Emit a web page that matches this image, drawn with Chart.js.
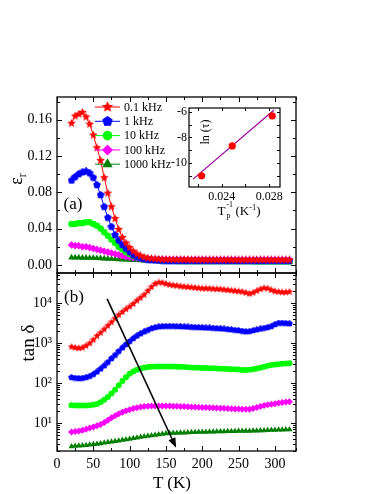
<!DOCTYPE html>
<html><head><meta charset="utf-8">
<script src="https://cdn.jsdelivr.net/npm/chart.js@4.4.1/dist/chart.umd.min.js"></script>
<style>
html,body{margin:0;padding:0;background:#fff;}
#wrap{position:relative;width:382px;height:494px;overflow:hidden;background:#fff;}
canvas{position:absolute;left:0;top:0;}
.lbl{position:absolute;font-family:'Liberation Serif','Times New Roman',serif;color:#000;white-space:nowrap;line-height:1;transform:translate(-50%,-50%);}
.rot{transform:translate(-50%,-50%) rotate(-90deg);}
.sm{font-size:65%;position:relative;}
.ab{position:absolute;font-size:8px;line-height:1;}
</style></head>
<body><div id="wrap">
<canvas id="cTop" width="382" height="494"></canvas>
<canvas id="cBot" width="382" height="494"></canvas>
<canvas id="cIn" width="382" height="494"></canvas>
<div class="lbl rot" style="left:16px;top:179px;font-size:18px">ε<span class="sm" style="top:4px">r</span></div>
<div class="lbl rot" style="left:27px;top:343px;font-size:19px">tan δ</div>
<div class="lbl" style="left:172px;top:482px;font-size:17px">T (K)</div>
<div class="lbl" style="left:73px;top:203px;font-size:17px">(a)</div>
<div class="lbl" style="left:74px;top:296px;font-size:17px">(b)</div>
<div class="lbl rot" style="left:205px;top:132px;font-size:12px">ln (τ)</div>
<div class="lbl" style="left:239px;top:210px;font-size:13px">T<span style="display:inline-block;position:relative;width:10px;height:1em;vertical-align:top;"><span class="ab" style="left:1px;top:-3px">-1</span><span class="ab" style="left:1px;top:8px">p</span></span>(K<span class="sm" style="top:-5px">-1</span>)</div>
</div>
<script>
// ---- data ----
const temps = [20,25,30,35,40,45,50,55,60,65,70,75,80,85,90,95,100,105,110,115,120,125,130,135,140,145,150,155,160,165,170,175,180,185,190,195,200,205,210,215,220,225,230,235,240,245,250,255,260,265,270,275,280,285,290,295,300,305,310,315,320];
const freqLabels = ['0.1 kHz','1 kHz','10 kHz','100 kHz','1000 kHz'];

const epsr_01kHz = [0.156,0.164,0.166,0.168,0.163,0.155,0.143,0.129,0.115,0.096,
 0.079,0.064,0.051,0.039,0.030,0.024,0.019,0.015,0.012,0.010,
 0.0085,0.0075,0.0070,0.0066,0.0063,0.0061,0.0060,0.0059,0.0058,0.0058,
 0.0057,0.0057,0.0057,0.0056,0.0056,0.0056,0.0056,0.0055,0.0055,0.0055,
 0.0055,0.0055,0.0055,0.0055,0.0055,0.0054,0.0054,0.0054,0.0054,0.0054,
 0.0054,0.0054,0.0054,0.0054,0.0054,0.0054,0.0054,0.0054,0.0054,0.0054,
 0.0054];
const epsr_1kHz = [0.093,0.097,0.100,0.102,0.103,0.101,0.096,0.088,0.077,0.064,
 0.052,0.042,0.033,0.027,0.022,0.018,0.014,0.011,0.009,0.0075,
 0.0065,0.0058,0.0053,0.0050,0.0048,0.0047,0.0046,0.0045,0.0045,0.0044,
 0.0044,0.0044,0.0044,0.0044,0.0044,0.0044,0.0044,0.0044,0.0044,0.0044,
 0.0043,0.0043,0.0043,0.0043,0.0043,0.0043,0.0043,0.0043,0.0043,0.0043,
 0.0043,0.0043,0.0043,0.0043,0.0043,0.0043,0.0043,0.0043,0.0043,0.0043,
 0.0043];
const epsr_10kHz = [0.045,0.045,0.046,0.046,0.047,0.047,0.045,0.043,0.040,0.036,
 0.032,0.028,0.024,0.020,0.017,0.014,0.012,0.010,0.0085,0.0075,
 0.0068,0.0060,0.0055,0.0051,0.0048,0.0046,0.0044,0.0043,0.0042,0.0041,
 0.0040,0.0040,0.0040,0.0040,0.0040,0.0040,0.0040,0.0040,0.0040,0.0040,
 0.0039,0.0039,0.0039,0.0039,0.0039,0.0039,0.0039,0.0039,0.0039,0.0039,
 0.0038,0.0038,0.0038,0.0038,0.0038,0.0038,0.0038,0.0038,0.0038,0.0038,
 0.0038];
const epsr_100kHz = [0.022,0.021,0.021,0.020,0.020,0.019,0.018,0.017,0.016,0.015,
 0.014,0.013,0.012,0.011,0.010,0.009,0.0085,0.008,0.0075,0.007,
 0.0068,0.0066,0.0064,0.0062,0.0061,0.0060,0.0059,0.0058,0.0058,0.0057,
 0.0057,0.0057,0.0057,0.0056,0.0056,0.0056,0.0056,0.0056,0.0056,0.0056,
 0.0056,0.0056,0.0056,0.0056,0.0055,0.0055,0.0055,0.0055,0.0055,0.0055,
 0.0055,0.0055,0.0055,0.0055,0.0055,0.0055,0.0055,0.0055,0.0055,0.0055,
 0.0055];
const epsr_1000kHz = [0.0080,0.0080,0.0079,0.0078,0.0077,0.0076,0.0075,0.0073,0.0071,0.0069,
 0.0067,0.0065,0.0063,0.0061,0.0059,0.0057,0.0055,0.0053,0.0051,0.0049,
 0.0047,0.0045,0.0043,0.0041,0.0040,0.0039,0.0038,0.0037,0.0036,0.0035,
 0.0035,0.0034,0.0034,0.0033,0.0033,0.0033,0.0032,0.0032,0.0032,0.0032,
 0.0031,0.0031,0.0031,0.0031,0.0031,0.0031,0.0031,0.0031,0.0031,0.0031,
 0.0031,0.0031,0.0030,0.0030,0.0030,0.0030,0.0030,0.0030,0.0030,0.0030,
 0.0030];

const tan_01kHz = [800,760,740,760,850,980,1200,1500,1800,2200,
 2700,3300,4100,5000,6000,7000,8100,9500,11500,13500,
 16000,20000,25000,30000,32500,32000,30000,28500,27500,27000,
 26000,25500,25000,24500,24000,23500,23000,23000,22800,22500,
 22200,22000,21500,21000,20500,20000,19500,19000,18000,17000,
 18000,20000,22000,23500,23000,21000,19500,19000,18500,18500,
 19000];
const tan_1kHz = [138,133,130,132,138,148,165,190,225,270,
 330,410,500,620,760,920,1100,1300,1500,1700,
 1900,2100,2300,2450,2550,2600,2620,2620,2620,2600,
 2580,2550,2520,2500,2470,2450,2420,2400,2370,2350,
 2320,2290,2250,2200,2150,2100,2050,1980,1920,1950,
 2050,2150,2250,2350,2450,2600,2900,3150,3150,3100,
 3050];
const tan_10kHz = [28,27.5,27.5,27.5,27.5,28,28.5,30,33,38,
 45,55,68,88,112,140,170,195,215,230,
 242,250,255,257,258,258,258,257,257,256,
 254,251,248,245,242,240,238,236,234,232,
 230,228,226,224,222,219,216,212,210,213,
 220,230,240,255,268,280,290,295,302,308,
 312];
const tan_100kHz = [6.0,6.1,6.3,6.6,7.0,7.5,8.0,8.5,9.2,10.3,
 11.8,13.5,15.2,17.0,18.7,20.2,21.6,23.0,24.2,25.2,
 26.0,26.4,26.6,26.8,26.8,26.7,26.6,26.5,26.4,26.2,
 26.0,25.8,25.5,25.2,25.0,24.8,24.6,24.4,24.2,24.0,
 23.8,23.5,23.3,23.0,22.8,22.5,22.3,22.1,22.0,22.2,
 23.0,24.5,26.0,27.5,28.5,29.5,30.5,31.5,32.5,33.5,
 34.0];
const tan_1000kHz = [2.60,2.65,2.70,2.75,2.80,2.85,2.95,3.00,3.10,3.20,
 3.30,3.40,3.50,3.60,3.75,3.85,4.00,4.15,4.30,4.45,
 4.60,4.75,4.90,5.05,5.20,5.35,5.50,5.55,5.60,5.65,
 5.70,5.75,5.80,5.85,5.90,5.95,6.00,6.00,6.05,6.05,
 6.10,6.10,6.15,6.20,6.25,6.25,6.30,6.30,6.35,6.35,
 6.40,6.45,6.50,6.55,6.60,6.65,6.70,6.75,6.80,6.85,
 6.90];

// inset: ln(tau) vs 1/Tp
const invTp = [0.02232, 0.02489, 0.02825];
const lnTau = [-11.02, -8.67, -6.31];
const fitInvTp = [0.0216, 0.0284];
const fitLnTau = [-11.28, -5.85];

// arrow (T, tan delta) start and end
const arrowT = [69, 164];
const arrowTan = [12600, 2.4];

// tick label sets
const xTickLabels = [0,50,100,150,200,250,300];
const epsTickLabels = ['0.00','0.04','0.08','0.12','0.16'];

// ---- styling ----
const FONT = "'Liberation Serif','Times New Roman',serif";
Chart.defaults.font.family = FONT;
Chart.defaults.color = '#000';
const colors = ['#ff0000','#0000ff','#00ff00','#ff00ff','#007f00'];
const styles = ['star','pentagon','circle','diamond','triangle'];

function polyImg(size, color, n, inner){
  const c = document.createElement('canvas'); c.width = c.height = size;
  const g = c.getContext('2d'); const r = size/2;
  g.beginPath();
  const k = inner ? n*2 : n;
  for (let i=0;i<k;i++){
    const ang = -Math.PI/2 + i*2*Math.PI/k;
    const rr = inner && (i%2) ? r*inner : r;
    g.lineTo(r + rr*Math.cos(ang), r + rr*Math.sin(ang));
  }
  g.closePath(); g.fillStyle = color; g.fill();
  return c;
}
function pointStyleFor(i, big, small){
  const s = styles[i], c = colors[i];
  if (s==='star') return {ps: polyImg(big?12:(small?8:9), c, 5, 0.45), r: 4};
  if (s==='pentagon') return {ps: polyImg(big?11:(small?7:8), c, 5, 0), r: 4};
  if (s==='circle') return {ps:'circle', r: big?4.8:(small?3:3.3)};
  if (s==='diamond') return {ps:'rectRot', r: big?5.5:(small?3.5:3.8)};
  return {ps:'triangle', r: big?6:(small?3.5:3.8)};
}
function makeDatasets(valueSets, small){
  return valueSets.map((vals,i)=>{
    const st = pointStyleFor(i, false, small);
    return {label:freqLabels[i], data: temps.map((t,j)=>({x:t, y:vals[j]})),
      borderColor:colors[i], backgroundColor:colors[i], borderWidth:1,
      pointStyle:st.ps, pointRadius:st.r, pointBorderWidth:0,
      pointBackgroundColor:colors[i], pointBorderColor:colors[i], tension:0, fill:false};
  });
}

function framePlugin(cfg){
  return {id:'frame', afterDraw(chart){
    const ctx = chart.ctx, a = chart.chartArea, xs = chart.scales.x, ys = chart.scales.y;
    const L=a.left, R=a.right, T=a.top, B=a.bottom;
    ctx.save(); ctx.strokeStyle='#000'; ctx.lineWidth=1; ctx.beginPath();
    xs.ticks.forEach(t=>{
      const k = cfg.xKind(t.value); if(!k) return;
      const len = k===2?cfg.maj:cfg.min;
      const p = Math.round(xs.getPixelForValue(t.value))+0.5;
      if (p<L-1||p>R+1) return;
      ctx.moveTo(p,B); ctx.lineTo(p,B-len);
      ctx.moveTo(p,T); ctx.lineTo(p,T+len);
    });
    ys.ticks.forEach(t=>{
      const k = cfg.yKind(t.value); if(!k) return;
      const len = k===2?cfg.maj:cfg.min;
      const p = Math.round(ys.getPixelForValue(t.value))+0.5;
      if (p<T-1||p>B+1) return;
      ctx.moveTo(L,p); ctx.lineTo(L+len,p);
      ctx.moveTo(R,p); ctx.lineTo(R-len,p);
    });
    ctx.stroke();
    ctx.lineWidth = cfg.fw || 1.3;
    ctx.strokeRect(L,T,R-L,B-T);
    ctx.restore();
  }};
}

function drawMarker(ctx, i, x, y){
  const st = pointStyleFor(i, true, false);
  ctx.save(); ctx.fillStyle = colors[i];
  if (typeof st.ps !== 'string'){ ctx.drawImage(st.ps, x-st.ps.width/2, y-st.ps.height/2); }
  else {
    const r = st.r; ctx.beginPath();
    if (st.ps==='circle') ctx.arc(x,y,r,0,Math.PI*2);
    else if (st.ps==='rectRot'){ ctx.moveTo(x,y-r); ctx.lineTo(x+r,y); ctx.lineTo(x,y+r); ctx.lineTo(x-r,y); ctx.closePath(); }
    else { for(let k=0;k<3;k++){ const ang=-Math.PI/2+k*2*Math.PI/3; ctx.lineTo(x+r*Math.cos(ang), y+r*Math.sin(ang)); } ctx.closePath(); }
    ctx.fill();
  }
  ctx.restore();
}
const legendPlugin = {id:'legendBox', afterDraw(chart){
  const ctx = chart.ctx;
  chart.data.datasets.forEach((d,i)=>{
    const y = 107 + i*14.3;
    ctx.save();
    ctx.strokeStyle = colors[i]; ctx.lineWidth = 1;
    ctx.beginPath(); ctx.moveTo(95,y); ctx.lineTo(120,y); ctx.stroke();
    drawMarker(ctx, i, 107.5, y);
    ctx.fillStyle='#000'; ctx.font = '12px '+FONT; ctx.textBaseline='middle'; ctx.textAlign='left';
    ctx.fillText(d.label, 124, y+0.5);
    ctx.restore();
  });
}};
const arrowPlugin = {id:'arrow', afterDatasetsDraw(chart){
  const xs = chart.scales.x, ys = chart.scales.y, ctx = chart.ctx;
  const x1 = xs.getPixelForValue(arrowT[0]), y1 = ys.getPixelForValue(arrowTan[0]);
  const x2 = xs.getPixelForValue(arrowT[1]), y2 = ys.getPixelForValue(arrowTan[1]);
  const ang = Math.atan2(y2-y1, x2-x1), hl = 10, hw = 3.8;
  const bx = x2 - hl*Math.cos(ang), by = y2 - hl*Math.sin(ang);
  ctx.save(); ctx.strokeStyle='#000'; ctx.fillStyle='#000'; ctx.lineWidth=1.6;
  ctx.beginPath(); ctx.moveTo(x1,y1); ctx.lineTo(bx,by); ctx.stroke();
  ctx.beginPath(); ctx.moveTo(x2,y2);
  ctx.lineTo(bx + hw*Math.sin(ang), by - hw*Math.cos(ang));
  ctx.lineTo(bx - hw*Math.sin(ang), by + hw*Math.cos(ang));
  ctx.closePath(); ctx.fill(); ctx.restore();
}};
const whiteArea = {id:'whiteArea', beforeDraw(chart){
  const a = chart.chartArea, ctx = chart.ctx;
  ctx.save(); ctx.fillStyle='#fff'; ctx.fillRect(a.left,a.top,a.right-a.left,a.bottom-a.top); ctx.restore();
}};

function base(pad){
  return {responsive:false, animation:false, devicePixelRatio:1, events:[],
    layout:{padding:pad, autoPadding:false},
    plugins:{legend:{display:false}, tooltip:{enabled:false}}};
}
const noGrid = {display:false, drawTicks:false};
const xKindMain = v => (Math.round(v)%50===0 ? 2 : 1);
const sup = {0:'⁰',1:'¹',2:'²',3:'³',4:'⁴',5:'⁵'};
const isPow10 = v => Math.abs(Math.log10(v) - Math.round(Math.log10(v))) < 1e-6;

// ---- top chart ----
const topOpts = base({left:0, top:97, right:86, bottom:221});
topOpts.scales = {
  x:{type:'linear', min:0, max:329, grid:noGrid, border:{display:false},
     ticks:{display:false, stepSize:25, maxTicksLimit:1000, autoSkip:false}, afterFit:s=>{s.height=0;}},
  y:{type:'linear', min:-0.009, max:0.185, grid:noGrid, border:{display:false},
     ticks:{stepSize:0.02, maxTicksLimit:1000, includeBounds:false, autoSkip:false, padding:5, font:{size:14},
       callback:v=>{const s=Math.abs(Math.round(v*100)/100).toFixed(2); return epsTickLabels.includes(s)?s:'';}},
     afterFit:s=>{s.width=57;}}
};
new Chart(document.getElementById('cTop'), {
  type:'line',
  data:{datasets: makeDatasets([epsr_01kHz,epsr_1kHz,epsr_10kHz,epsr_100kHz,epsr_1000kHz], false)},
  options: topOpts,
  plugins:[framePlugin({xKind:xKindMain, yKind:v=>(Math.round(v*100)%4===0?2:1), maj:5, min:3}), legendPlugin]
});

// ---- bottom chart ----
const botOpts = base({left:0, top:273, right:86, bottom:0});
botOpts.scales = {
  x:{type:'linear', min:0, max:329, grid:noGrid, border:{display:false},
     ticks:{stepSize:25, maxTicksLimit:1000, autoSkip:false, padding:5, maxRotation:0, font:{size:14},
       callback:v=>(xTickLabels.includes(Math.round(v))?String(Math.round(v)):'')},
     afterFit:s=>{s.height=43;}},
  y:{type:'logarithmic', min:2, max:56000, grid:noGrid, border:{display:false},
     ticks:{autoSkip:false, padding:5, font:{size:14},
       callback:v=>(isPow10(v)?'10'+sup[Math.round(Math.log10(v))]:'')},
     afterFit:s=>{s.width=57;}}
};
new Chart(document.getElementById('cBot'), {
  type:'line',
  data:{datasets: makeDatasets([tan_01kHz,tan_1kHz,tan_10kHz,tan_100kHz,tan_1000kHz], true)},
  options: botOpts,
  plugins:[framePlugin({xKind:xKindMain, yKind:v=>{
      if (isPow10(v)) return 2;
      const m = v/Math.pow(10,Math.floor(Math.log10(v)+1e-9));
      return Math.abs(m-Math.round(m))<1e-6 ? 1 : 0;}, maj:5, min:3}), arrowPlugin]
});

// ---- inset chart ----
const inOpts = base({left:159, top:108, right:102, bottom:277});
inOpts.scales = {
  x:{type:'linear', min:0.02126, max:0.0289, grid:noGrid, border:{display:false},
     ticks:{stepSize:0.002, maxTicksLimit:1000, includeBounds:false, autoSkip:false, padding:3, maxRotation:0, font:{size:12},
       callback:v=>{const m=Math.round(v*1000); return m%4===0?(m/1000).toFixed(3):'';}},
     afterFit:s=>{s.height=30;}},
  y:{type:'linear', min:-11.9, max:-5.69, grid:noGrid, border:{display:false},
     ticks:{stepSize:1, maxTicksLimit:1000, includeBounds:false, autoSkip:false, padding:2, font:{size:12},
       callback:v=>(Math.round(v)%2===0?String(Math.round(v)):'')},
     afterFit:s=>{s.width=30;}}
};
new Chart(document.getElementById('cIn'), {
  type:'scatter',
  data:{datasets:[
    {label:'fit', data: fitInvTp.map((x,i)=>({x, y:fitLnTau[i]})), showLine:true, borderColor:'#990099', borderWidth:1.2, pointRadius:0, order:2},
    {label:'ln tau', data: invTp.map((x,i)=>({x, y:lnTau[i]})), pointRadius:3.6, pointBackgroundColor:'#ff0000', pointBorderWidth:0, backgroundColor:'#ff0000', order:1}
  ]},
  options: inOpts,
  plugins:[whiteArea, framePlugin({xKind:()=>2, yKind:()=>2, maj:3, min:3, fw:1.2})]
});
</script>
</body></html>
